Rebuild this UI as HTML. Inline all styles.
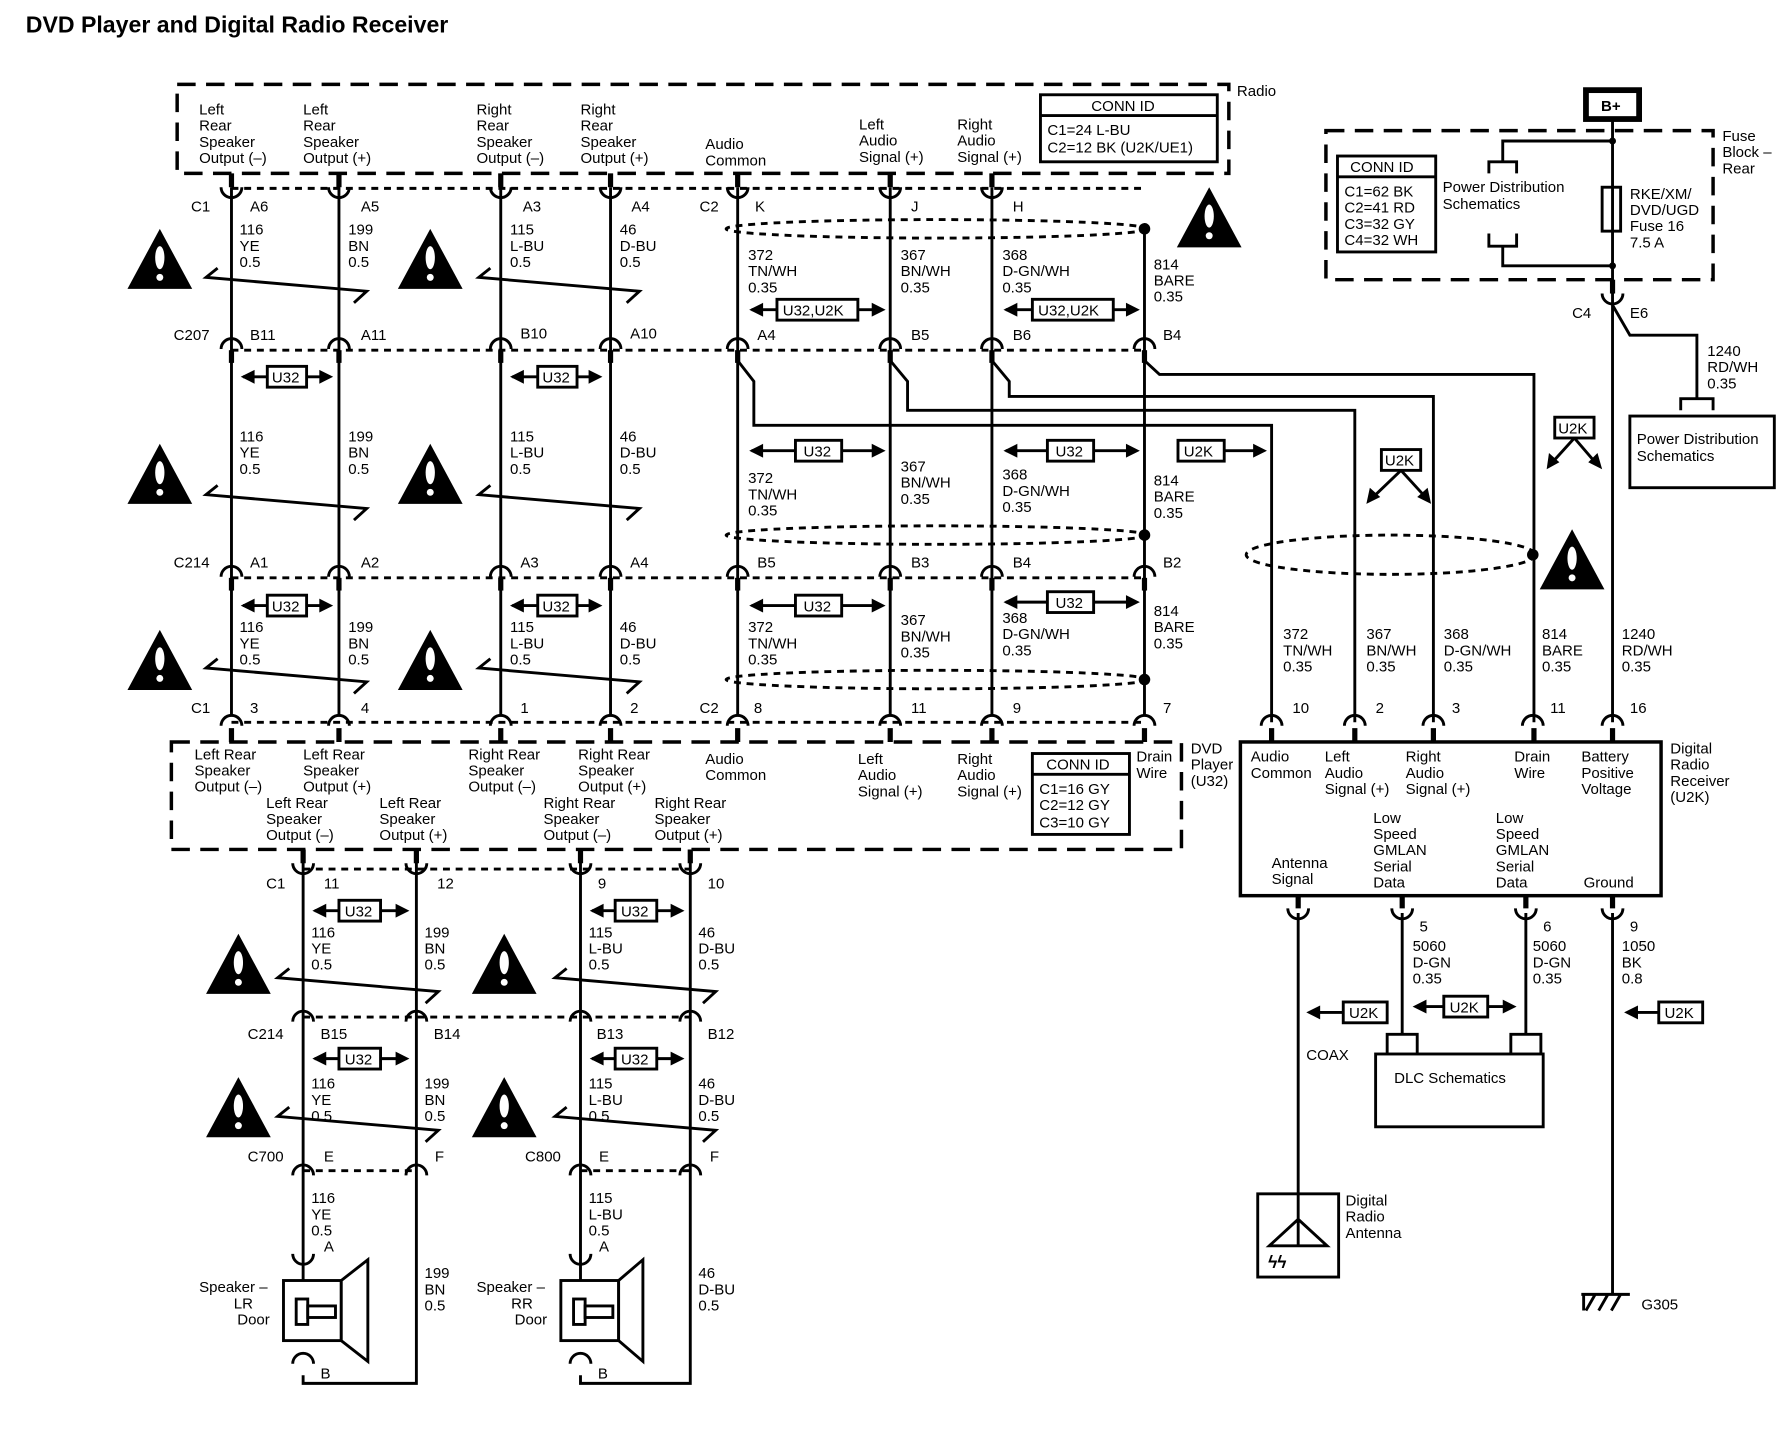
<!DOCTYPE html>
<html><head><meta charset="utf-8"><style>
html,body{margin:0;padding:0;background:#fff}
svg{display:block}
text{font-family:"Liberation Sans",sans-serif;font-size:13px;fill:#000}
.w{stroke:#000;stroke-width:2.5;fill:none}
.t{stroke:#000;stroke-width:4.5;fill:none}
.d{stroke:#000;stroke-width:2.5;fill:none;stroke-dasharray:6 5}
.D{stroke:#000;stroke-width:3;fill:none;stroke-dasharray:16 9}
.b{stroke:#000;stroke-width:2.5;fill:#fff}
</style></head><body>
<svg width="1792" height="1440" viewBox="0 0 1550 1246" xmlns="http://www.w3.org/2000/svg">
<defs>
<g id="tri"><polygon points="0,-30 -28,22 28,22" fill="#000"/><ellipse cx="0" cy="-5" rx="4" ry="10" fill="#fff"/><circle cx="0" cy="12" r="3" fill="#fff"/></g>
<g id="cup"><path d="M-9,-4 A9,9 0 0 0 9,-4" class="w"/><line x1="0" y1="-16" x2="0" y2="-4" class="t"/></g>
<g id="cap"><path d="M-9,4 A9,9 0 0 1 9,4" class="w"/><line x1="0" y1="5" x2="0" y2="16" class="t"/></g>
<g id="al"><polygon points="0,0 12,-6 12,6" fill="#000"/></g>
<g id="ar"><polygon points="0,0 -12,-6 -12,6" fill="#000"/></g>
</defs>
<text x="22" y="28" style="font-size:20px;font-weight:bold">DVD Player and Digital Radio Receiver</text>

<!-- Radio box -->
<rect x="153" y="73" width="910" height="77" class="D"/>
<text x="1070" y="83">Radio</text>
<rect x="900" y="82" width="153" height="58" class="b"/><line x1="900" y1="100" x2="1053" y2="100" class="w"/>
<text x="944" y="96">CONN ID</text><text x="906" y="117">C1=24 L-BU</text><text x="906" y="132">C2=12 BK (U2K/UE1)</text>
<g font-size="13">
<text x="172" y="99">Left</text><text x="172" y="113">Rear</text><text x="172" y="127">Speaker</text><text x="172" y="141">Output (–)</text>
<text x="262" y="99">Left</text><text x="262" y="113">Rear</text><text x="262" y="127">Speaker</text><text x="262" y="141">Output (+)</text>
<text x="412" y="99">Right</text><text x="412" y="113">Rear</text><text x="412" y="127">Speaker</text><text x="412" y="141">Output (–)</text>
<text x="502" y="99">Right</text><text x="502" y="113">Rear</text><text x="502" y="127">Speaker</text><text x="502" y="141">Output (+)</text>
<text x="610" y="129">Audio</text><text x="610" y="143">Common</text>
<text x="743" y="112">Left</text><text x="743" y="126">Audio</text><text x="743" y="140">Signal (+)</text>
<text x="828" y="112">Right</text><text x="828" y="126">Audio</text><text x="828" y="140">Signal (+)</text>
</g>
<!-- connectors top C1/C2 -->
<line x1="200" y1="163" x2="990" y2="163" class="d"/>
<use href="#cup" x="200" y="166"/><use href="#cup" x="293" y="166"/><use href="#cup" x="433" y="166"/><use href="#cup" x="528" y="166"/>
<use href="#cup" x="638" y="166"/><use href="#cup" x="770" y="166"/><use href="#cup" x="858" y="166"/>
<text x="165" y="183">C1</text><text x="216" y="183">A6</text><text x="312" y="183">A5</text><text x="452" y="183">A3</text><text x="546" y="183">A4</text>
<text x="605" y="183">C2</text><text x="653" y="183">K</text><text x="788" y="183">J</text><text x="876" y="183">H</text>

<g class="w">
<line x1="200" y1="162" x2="200" y2="620"/>
<line x1="293" y1="162" x2="293" y2="620"/>
<line x1="433" y1="162" x2="433" y2="620"/>
<line x1="528" y1="162" x2="528" y2="620"/>
<line x1="638" y1="162" x2="638" y2="620"/>
<line x1="770" y1="162" x2="770" y2="620"/>
<line x1="858" y1="162" x2="858" y2="620"/>
<line x1="990" y1="198" x2="990" y2="620"/>
</g>
<text x="207" y="203">116</text><text x="207" y="217">YE</text><text x="207" y="231">0.5</text>
<text x="301" y="203">199</text><text x="301" y="217">BN</text><text x="301" y="231">0.5</text>
<text x="441" y="203">115</text><text x="441" y="217">L-BU</text><text x="441" y="231">0.5</text>
<text x="536" y="203">46</text><text x="536" y="217">D-BU</text><text x="536" y="231">0.5</text>
<text x="647" y="225">372</text><text x="647" y="239">TN/WH</text><text x="647" y="253">0.35</text>
<text x="779" y="225">367</text><text x="779" y="239">BN/WH</text><text x="779" y="253">0.35</text>
<text x="867" y="225">368</text><text x="867" y="239">D-GN/WH</text><text x="867" y="253">0.35</text>
<text x="998" y="233">814</text><text x="998" y="247">BARE</text><text x="998" y="261">0.35</text>
<g class="w">
<path d="M188,232 L178,240 L317,252 L306,262"/>
<path d="M424,232 L414,240 L553,252 L542,262"/>
<path d="M188,420 L178,428 L317,440 L306,450"/>
<path d="M424,420 L414,428 L553,440 L542,450"/>
<path d="M188,570 L178,578 L317,590 L306,600"/>
<path d="M424,570 L414,578 L553,590 L542,600"/>
<path d="M250,838 L240,846 L379,858 L368,868"/>
<path d="M490,838 L480,846 L619,858 L608,868"/>
<path d="M250,958 L240,966 L379,978 L368,988"/>
<path d="M490,958 L480,966 L619,978 L608,988"/>
</g>
<use href="#tri" x="138" y="228"/><use href="#tri" x="372" y="228"/>
<use href="#tri" x="138" y="414"/><use href="#tri" x="372" y="414"/>
<use href="#tri" x="138" y="575"/><use href="#tri" x="372" y="575"/>
<use href="#tri" x="206" y="838"/><use href="#tri" x="436" y="838"/>
<use href="#tri" x="206" y="962"/><use href="#tri" x="436" y="962"/>
<use href="#tri" x="1046" y="192"/><use href="#tri" x="1360" y="488"/>

<ellipse cx="810" cy="198" rx="182" ry="8" class="d"/><circle cx="990" cy="198" r="5" fill="#000"/>
<ellipse cx="810" cy="463" rx="182" ry="8" class="d"/><circle cx="990" cy="463" r="5" fill="#000"/>
<ellipse cx="810" cy="588" rx="182" ry="8" class="d"/><circle cx="990" cy="588" r="5" fill="#000"/>
<ellipse cx="1203" cy="480" rx="125" ry="17" class="d"/><circle cx="1326" cy="480" r="5" fill="#000"/>

<line x1="650" y1="268" x2="762" y2="268" class="w"/><use href="#al" x="648" y="268"/><use href="#ar" x="766" y="268"/>
<rect x="672" y="259" width="70" height="18" class="b"/><text x="677" y="273">U32,U2K</text>
<line x1="870" y1="268" x2="982" y2="268" class="w"/><use href="#al" x="868" y="268"/><use href="#ar" x="986" y="268"/>
<rect x="893" y="259" width="70" height="18" class="b"/><text x="898" y="273">U32,U2K</text>

<!-- C207 -->
<line x1="200" y1="303" x2="990" y2="303" class="d"/>
<use href="#cap" x="200" y="298"/><use href="#cap" x="293" y="298"/><use href="#cap" x="433" y="298"/><use href="#cap" x="528" y="298"/>
<use href="#cap" x="638" y="298"/><use href="#cap" x="770" y="298"/><use href="#cap" x="858" y="298"/><use href="#cap" x="990" y="298"/>
<text x="150" y="294">C207</text><text x="216" y="294">B11</text><text x="312" y="294">A11</text><text x="450" y="293">B10</text><text x="545" y="293">A10</text>
<text x="655" y="294">A4</text><text x="788" y="294">B5</text><text x="876" y="294">B6</text><text x="1006" y="294">B4</text>

<g class="w">
<path d="M638,312 L652,330 L652,368 L1100,368 L1100,625"/>
<path d="M770,312 L785,330 L785,355 L1172,355 L1172,625"/>
<path d="M858,312 L873,330 L873,343 L1240,343 L1240,625"/>
<path d="M990,312 L1003,324 L1327,324 L1327,625"/>
<path d="M1395,103 L1395,625"/>
</g>

<g>
<line x1="210" y1="326" x2="284" y2="326" class="w"/><use href="#al" x="208" y="326"/><use href="#ar" x="288" y="326"/>
<rect x="231" y="317" width="34" height="18" class="b"/><text x="235" y="331">U32</text>
<line x1="443" y1="326" x2="518" y2="326" class="w"/><use href="#al" x="441" y="326"/><use href="#ar" x="521" y="326"/>
<rect x="465" y="317" width="34" height="18" class="b"/><text x="469" y="331">U32</text>
<line x1="650" y1="390" x2="762" y2="390" class="w"/><use href="#al" x="648" y="390"/><use href="#ar" x="766" y="390"/>
<rect x="688" y="381" width="40" height="18" class="b"/><text x="695" y="395">U32</text>
<line x1="870" y1="390" x2="982" y2="390" class="w"/><use href="#al" x="868" y="390"/><use href="#ar" x="986" y="390"/>
<rect x="906" y="381" width="40" height="18" class="b"/><text x="913" y="395">U32</text>
<line x1="1058" y1="390" x2="1090" y2="390" class="w"/><use href="#ar" x="1096" y="390"/>
<rect x="1019" y="381" width="40" height="18" class="b"/><text x="1024" y="395">U2K</text>
<rect x="1195" y="389" width="34" height="18" class="b"/><text x="1198" y="403">U2K</text>
<path d="M1212,407 L1188,430 M1212,407 L1233,430" class="w"/>
<polygon points="1182,436 1185,422 1194,430" fill="#000"/><polygon points="1238,436 1226,430 1235,422" fill="#000"/>
<rect x="1345" y="361" width="34" height="18" class="b"/><text x="1348" y="375">U2K</text>
<path d="M1362,379 L1343,400 M1362,379 L1380,400" class="w"/>
<polygon points="1338,406 1340,392 1349,400" fill="#000"/><polygon points="1386,406 1374,400 1382,392" fill="#000"/>
</g>
<text x="207" y="382">116</text><text x="207" y="396">YE</text><text x="207" y="410">0.5</text>
<text x="301" y="382">199</text><text x="301" y="396">BN</text><text x="301" y="410">0.5</text>
<text x="441" y="382">115</text><text x="441" y="396">L-BU</text><text x="441" y="410">0.5</text>
<text x="536" y="382">46</text><text x="536" y="396">D-BU</text><text x="536" y="410">0.5</text>
<text x="647" y="418">372</text><text x="647" y="432">TN/WH</text><text x="647" y="446">0.35</text>
<text x="779" y="408">367</text><text x="779" y="422">BN/WH</text><text x="779" y="436">0.35</text>
<text x="867" y="415">368</text><text x="867" y="429">D-GN/WH</text><text x="867" y="443">0.35</text>
<text x="998" y="420">814</text><text x="998" y="434">BARE</text><text x="998" y="448">0.35</text>

<!-- C214 -->
<line x1="200" y1="500" x2="990" y2="500" class="d"/>
<use href="#cap" x="200" y="495"/><use href="#cap" x="293" y="495"/><use href="#cap" x="433" y="495"/><use href="#cap" x="528" y="495"/>
<use href="#cap" x="638" y="495"/><use href="#cap" x="770" y="495"/><use href="#cap" x="858" y="495"/><use href="#cap" x="990" y="495"/>
<text x="150" y="491">C214</text><text x="216" y="491">A1</text><text x="312" y="491">A2</text><text x="450" y="491">A3</text><text x="545" y="491">A4</text>
<text x="655" y="491">B5</text><text x="788" y="491">B3</text><text x="876" y="491">B4</text><text x="1006" y="491">B2</text>

<g>
<line x1="210" y1="524" x2="284" y2="524" class="w"/><use href="#al" x="208" y="524"/><use href="#ar" x="288" y="524"/>
<rect x="231" y="515" width="34" height="18" class="b"/><text x="235" y="529">U32</text>
<line x1="443" y1="524" x2="518" y2="524" class="w"/><use href="#al" x="441" y="524"/><use href="#ar" x="521" y="524"/>
<rect x="465" y="515" width="34" height="18" class="b"/><text x="469" y="529">U32</text>
<line x1="650" y1="524" x2="762" y2="524" class="w"/><use href="#al" x="648" y="524"/><use href="#ar" x="766" y="524"/>
<rect x="688" y="515" width="40" height="18" class="b"/><text x="695" y="529">U32</text>
<line x1="870" y1="521" x2="982" y2="521" class="w"/><use href="#al" x="868" y="521"/><use href="#ar" x="986" y="521"/>
<rect x="906" y="512" width="40" height="18" class="b"/><text x="913" y="526">U32</text>
</g>
<text x="207" y="547">116</text><text x="207" y="561">YE</text><text x="207" y="575">0.5</text>
<text x="301" y="547">199</text><text x="301" y="561">BN</text><text x="301" y="575">0.5</text>
<text x="441" y="547">115</text><text x="441" y="561">L-BU</text><text x="441" y="575">0.5</text>
<text x="536" y="547">46</text><text x="536" y="561">D-BU</text><text x="536" y="575">0.5</text>
<text x="647" y="547">372</text><text x="647" y="561">TN/WH</text><text x="647" y="575">0.35</text>
<text x="779" y="541">367</text><text x="779" y="555">BN/WH</text><text x="779" y="569">0.35</text>
<text x="867" y="539">368</text><text x="867" y="553">D-GN/WH</text><text x="867" y="567">0.35</text>
<text x="998" y="533">814</text><text x="998" y="547">BARE</text><text x="998" y="561">0.35</text>

<!-- C1/C2 DVD -->
<line x1="200" y1="625" x2="990" y2="625" class="d"/>
<g class="w">
<path d="M191,628 A9,9 0 0 1 209,628 M284,628 A9,9 0 0 1 302,628 M424,628 A9,9 0 0 1 442,628 M519,628 A9,9 0 0 1 537,628 M629,628 A9,9 0 0 1 647,628 M761,628 A9,9 0 0 1 779,628 M849,628 A9,9 0 0 1 867,628 M981,628 A9,9 0 0 1 999,628"/>
<path d="M1091,628 A9,9 0 0 1 1109,628 M1163,628 A9,9 0 0 1 1181,628 M1231,628 A9,9 0 0 1 1249,628 M1317,628 A9,9 0 0 1 1335,628 M1386,628 A9,9 0 0 1 1404,628"/>
</g>
<g class="t">
<path d="M200,630 V642 M293,630 V642 M433,630 V642 M528,630 V642 M638,630 V642 M770,630 V642 M858,630 V642 M990,630 V642"/>
<path d="M1100,630 V642 M1172,630 V642 M1240,630 V642 M1327,630 V642 M1395,630 V642"/>
</g>
<text x="165" y="617">C1</text><text x="216" y="617">3</text><text x="312" y="617">4</text><text x="450" y="617">1</text><text x="545" y="617">2</text>
<text x="605" y="617">C2</text><text x="652" y="617">8</text><text x="788" y="617">11</text><text x="876" y="617">9</text><text x="1006" y="617">7</text>
<text x="1118" y="617">10</text><text x="1190" y="617">2</text><text x="1256" y="617">3</text><text x="1341" y="617">11</text><text x="1410" y="617">16</text>

<rect x="148" y="642" width="874" height="93" class="D"/>
<rect x="893" y="652" width="84" height="70" class="b"/><line x1="893" y1="670" x2="977" y2="670" class="w"/>
<text x="905" y="666">CONN ID</text><text x="899" y="687">C1=16 GY</text><text x="899" y="701">C2=12 GY</text><text x="899" y="716">C3=10 GY</text>
<text x="1030" y="652">DVD</text><text x="1030" y="666">Player</text><text x="1030" y="680">(U32)</text>
<text x="168" y="657">Left Rear</text><text x="168" y="671">Speaker</text><text x="168" y="685">Output (–)</text>
<text x="262" y="657">Left Rear</text><text x="262" y="671">Speaker</text><text x="262" y="685">Output (+)</text>
<text x="405" y="657">Right Rear</text><text x="405" y="671">Speaker</text><text x="405" y="685">Output (–)</text>
<text x="500" y="657">Right Rear</text><text x="500" y="671">Speaker</text><text x="500" y="685">Output (+)</text>
<text x="230" y="699">Left Rear</text><text x="230" y="713">Speaker</text><text x="230" y="727">Output (–)</text>
<text x="328" y="699">Left Rear</text><text x="328" y="713">Speaker</text><text x="328" y="727">Output (+)</text>
<text x="470" y="699">Right Rear</text><text x="470" y="713">Speaker</text><text x="470" y="727">Output (–)</text>
<text x="566" y="699">Right Rear</text><text x="566" y="713">Speaker</text><text x="566" y="727">Output (+)</text>
<text x="610" y="661">Audio</text><text x="610" y="675">Common</text>
<text x="742" y="661">Left</text><text x="742" y="675">Audio</text><text x="742" y="689">Signal (+)</text>
<text x="828" y="661">Right</text><text x="828" y="675">Audio</text><text x="828" y="689">Signal (+)</text>
<text x="983" y="659">Drain</text><text x="983" y="673">Wire</text>

<text x="1110" y="553">372</text><text x="1110" y="567">TN/WH</text><text x="1110" y="581">0.35</text>
<text x="1182" y="553">367</text><text x="1182" y="567">BN/WH</text><text x="1182" y="581">0.35</text>
<text x="1249" y="553">368</text><text x="1249" y="567">D-GN/WH</text><text x="1249" y="581">0.35</text>
<text x="1334" y="553">814</text><text x="1334" y="567">BARE</text><text x="1334" y="581">0.35</text>
<text x="1403" y="553">1240</text><text x="1403" y="567">RD/WH</text><text x="1403" y="581">0.35</text>

<rect x="1073" y="642" width="364" height="133" fill="none" stroke="#000" stroke-width="3"/>
<text x="1082" y="659">Audio</text><text x="1082" y="673">Common</text>
<text x="1146" y="659">Left</text><text x="1146" y="673">Audio</text><text x="1146" y="687">Signal (+)</text>
<text x="1216" y="659">Right</text><text x="1216" y="673">Audio</text><text x="1216" y="687">Signal (+)</text>
<text x="1310" y="659">Drain</text><text x="1310" y="673">Wire</text>
<text x="1368" y="659">Battery</text><text x="1368" y="673">Positive</text><text x="1368" y="687">Voltage</text>
<text x="1445" y="652">Digital</text><text x="1445" y="666">Radio</text><text x="1445" y="680">Receiver</text><text x="1445" y="694">(U2K)</text>
<text x="1100" y="751">Antenna</text><text x="1100" y="765">Signal</text>
<text x="1188" y="712">Low</text><text x="1188" y="726">Speed</text><text x="1188" y="740">GMLAN</text><text x="1188" y="754">Serial</text><text x="1188" y="768">Data</text>
<text x="1294" y="712">Low</text><text x="1294" y="726">Speed</text><text x="1294" y="740">GMLAN</text><text x="1294" y="754">Serial</text><text x="1294" y="768">Data</text>
<text x="1370" y="768">Ground</text>

<g class="t"><path d="M1123,775 V786 M1213,775 V786 M1320,775 V786 M1395,775 V786"/></g>
<g class="w">
<path d="M1114,786 A9,9 0 0 0 1132,786 M1204,786 A9,9 0 0 0 1222,786 M1311,786 A9,9 0 0 0 1329,786 M1386,786 A9,9 0 0 0 1404,786"/>
<path d="M1123,790 V1033 M1213,790 V895 H1200 V912 M1213,895 H1226 V912 M1320,790 V895 H1307 V912 M1320,895 H1333 V912 M1395,790 V1120"/>
</g>
<text x="1228" y="806">5</text><text x="1335" y="806">6</text><text x="1410" y="806">9</text>
<text x="1222" y="823">5060</text><text x="1222" y="837">D-GN</text><text x="1222" y="851">0.35</text>
<text x="1326" y="823">5060</text><text x="1326" y="837">D-GN</text><text x="1326" y="851">0.35</text>
<text x="1403" y="823">1050</text><text x="1403" y="837">BK</text><text x="1403" y="851">0.8</text>
<line x1="1137" y1="876" x2="1162" y2="876" class="w"/><use href="#al" x="1130" y="876"/>
<rect x="1162" y="867" width="38" height="18" class="b"/><text x="1167" y="881">U2K</text>
<line x1="1230" y1="871" x2="1308" y2="871" class="w"/><use href="#al" x="1222" y="871"/><use href="#ar" x="1312" y="871"/>
<rect x="1249" y="862" width="38" height="18" class="b"/><text x="1254" y="876">U2K</text>
<line x1="1412" y1="876" x2="1435" y2="876" class="w"/><use href="#al" x="1405" y="876"/>
<rect x="1435" y="867" width="38" height="18" class="b"/><text x="1440" y="881">U2K</text>
<text x="1130" y="917">COAX</text>
<rect x="1190" y="912" width="145" height="63" class="b"/><text x="1206" y="937">DLC Schematics</text>
<rect x="1088" y="1033" width="70" height="72" class="b"/>
<path d="M1123,1033 V1078 M1098,1078 L1123,1055 L1148,1078 Z" class="w"/>
<text x="1097" y="1097" style="font-size:15px;font-weight:bold">ϟϟ</text>
<text x="1164" y="1043">Digital</text><text x="1164" y="1057">Radio</text><text x="1164" y="1071">Antenna</text>
<path d="M1368,1120 H1410 M1372,1134 L1380,1120 M1383,1134 L1391,1120 M1394,1134 L1402,1120 M1370,1134 V1120" class="w"/>
<text x="1420" y="1133">G305</text>

<rect x="1147" y="113" width="335" height="129" class="D"/>
<rect x="1372" y="78" width="46" height="25" fill="#fff" stroke="#000" stroke-width="5"/><text x="1385" y="96" style="font-weight:bold">B+</text>
<text x="1490" y="122">Fuse</text><text x="1490" y="136">Block –</text><text x="1490" y="150">Rear</text>
<rect x="1157" y="135" width="85" height="83" class="b"/><line x1="1157" y1="153" x2="1242" y2="153" class="w"/>
<text x="1168" y="149">CONN ID</text><text x="1163" y="170">C1=62 BK</text><text x="1163" y="184">C2=41 RD</text><text x="1163" y="198">C3=32 GY</text><text x="1163" y="212">C4=32 WH</text>
<path d="M1395,122 H1300 V140 M1288,150 V140 H1312 V150 M1395,230 H1300 V213 M1288,202 V213 H1312 V202" class="w"/>
<circle cx="1395" cy="122" r="3" fill="#000"/><circle cx="1395" cy="230" r="3" fill="#000"/>
<text x="1248" y="166">Power Distribution</text><text x="1248" y="181">Schematics</text>
<rect x="1386" y="162" width="16" height="38" class="b"/>
<line x1="1395" y1="162" x2="1395" y2="200" class="w"/>
<text x="1410" y="172">RKE/XM/</text><text x="1410" y="186">DVD/UGD</text><text x="1410" y="200">Fuse 16</text><text x="1410" y="214">7.5 A</text>
<line x1="1395" y1="242" x2="1395" y2="254" class="t"/>
<path d="M1386,254 A9,9 0 0 0 1404,254" class="w"/>
<text x="1360" y="275">C4</text><text x="1410" y="275">E6</text>
<path d="M1395,264 L1410,290 H1468 V345 M1454,355 V345 H1482 V355" class="w"/>
<text x="1477" y="308">1240</text><text x="1477" y="322">RD/WH</text><text x="1477" y="336">0.35</text>
<rect x="1410" y="360" width="125" height="62" class="b"/>
<text x="1416" y="384">Power Distribution</text><text x="1416" y="399">Schematics</text>

<g class="w">
<path d="M262,745 V1155 M360,745 V1197 H262 V1190 M502,745 V1155 M597,745 V1197 H502 V1190"/>
</g>
<g class="t"><path d="M262,735 V747 M360,735 V747 M502,735 V747 M597,735 V747"/></g>
<line x1="262" y1="752" x2="597" y2="752" class="d"/>
<g class="w"><path d="M253,747 A9,9 0 0 0 271,747 M351,747 A9,9 0 0 0 369,747 M493,747 A9,9 0 0 0 511,747 M588,747 A9,9 0 0 0 606,747"/></g>
<text x="230" y="769">C1</text><text x="280" y="769">11</text><text x="378" y="769">12</text><text x="517" y="769">9</text><text x="612" y="769">10</text>
<g>
<line x1="272" y1="788" x2="350" y2="788" class="w"/><use href="#al" x="270" y="788"/><use href="#ar" x="354" y="788"/>
<rect x="293" y="779" width="36" height="18" class="b"/><text x="298" y="793">U32</text>
<line x1="512" y1="788" x2="588" y2="788" class="w"/><use href="#al" x="510" y="788"/><use href="#ar" x="592" y="788"/>
<rect x="532" y="779" width="36" height="18" class="b"/><text x="537" y="793">U32</text>
<line x1="272" y1="916" x2="350" y2="916" class="w"/><use href="#al" x="270" y="916"/><use href="#ar" x="354" y="916"/>
<rect x="293" y="907" width="36" height="18" class="b"/><text x="298" y="921">U32</text>
<line x1="512" y1="916" x2="588" y2="916" class="w"/><use href="#al" x="510" y="916"/><use href="#ar" x="592" y="916"/>
<rect x="532" y="907" width="36" height="18" class="b"/><text x="537" y="921">U32</text>
</g>
<text x="269" y="811">116</text><text x="269" y="825">YE</text><text x="269" y="839">0.5</text>
<text x="367" y="811">199</text><text x="367" y="825">BN</text><text x="367" y="839">0.5</text>
<text x="509" y="811">115</text><text x="509" y="825">L-BU</text><text x="509" y="839">0.5</text>
<text x="604" y="811">46</text><text x="604" y="825">D-BU</text><text x="604" y="839">0.5</text>
<line x1="262" y1="880" x2="597" y2="880" class="d"/>
<g class="w"><path d="M253,884 A9,9 0 0 1 271,884 M351,884 A9,9 0 0 1 369,884 M493,884 A9,9 0 0 1 511,884 M588,884 A9,9 0 0 1 606,884"/></g>
<text x="214" y="899">C214</text><text x="277" y="899">B15</text><text x="375" y="899">B14</text><text x="516" y="899">B13</text><text x="612" y="899">B12</text>
<text x="269" y="942">116</text><text x="269" y="956">YE</text><text x="269" y="970">0.5</text>
<text x="367" y="942">199</text><text x="367" y="956">BN</text><text x="367" y="970">0.5</text>
<text x="509" y="942">115</text><text x="509" y="956">L-BU</text><text x="509" y="970">0.5</text>
<text x="604" y="942">46</text><text x="604" y="956">D-BU</text><text x="604" y="970">0.5</text>
<line x1="262" y1="1013" x2="360" y2="1013" class="d"/><line x1="502" y1="1013" x2="597" y2="1013" class="d"/>
<g class="w"><path d="M253,1017 A9,9 0 0 1 271,1017 M351,1017 A9,9 0 0 1 369,1017 M493,1017 A9,9 0 0 1 511,1017 M588,1017 A9,9 0 0 1 606,1017"/></g>
<text x="214" y="1005">C700</text><text x="280" y="1005">E</text><text x="376" y="1005">F</text>
<text x="454" y="1005">C800</text><text x="518" y="1005">E</text><text x="614" y="1005">F</text>
<text x="269" y="1041">116</text><text x="269" y="1055">YE</text><text x="269" y="1069">0.5</text><text x="280" y="1083">A</text>
<text x="367" y="1106">199</text><text x="367" y="1120">BN</text><text x="367" y="1134">0.5</text>
<text x="509" y="1041">115</text><text x="509" y="1055">L-BU</text><text x="509" y="1069">0.5</text><text x="518" y="1083">A</text>
<text x="604" y="1106">46</text><text x="604" y="1120">D-BU</text><text x="604" y="1134">0.5</text>
<g>
<path d="M253,1085 A9,9 0 0 0 271,1085 M253,1180 A9,9 0 0 1 271,1180" class="w"/>
<rect x="245" y="1108" width="50" height="52" class="b"/>
<polygon points="295,1108 318,1090 318,1178 295,1160" class="b"/>
<rect x="256" y="1124" width="10" height="22" class="b"/><rect x="266" y="1130" width="24" height="10" class="b"/>
<text x="172" y="1118">Speaker –</text><text x="202" y="1132">LR</text><text x="205" y="1146">Door</text><text x="277" y="1193">B</text>
<path d="M493,1085 A9,9 0 0 0 511,1085 M493,1180 A9,9 0 0 1 511,1180" class="w"/>
<rect x="485" y="1108" width="50" height="52" class="b"/>
<polygon points="535,1108 556,1090 556,1178 535,1160" class="b"/>
<rect x="496" y="1124" width="10" height="22" class="b"/><rect x="506" y="1130" width="24" height="10" class="b"/>
<text x="412" y="1118">Speaker –</text><text x="442" y="1132">RR</text><text x="445" y="1146">Door</text><text x="517" y="1193">B</text>
</g>
</svg>
</body></html>
